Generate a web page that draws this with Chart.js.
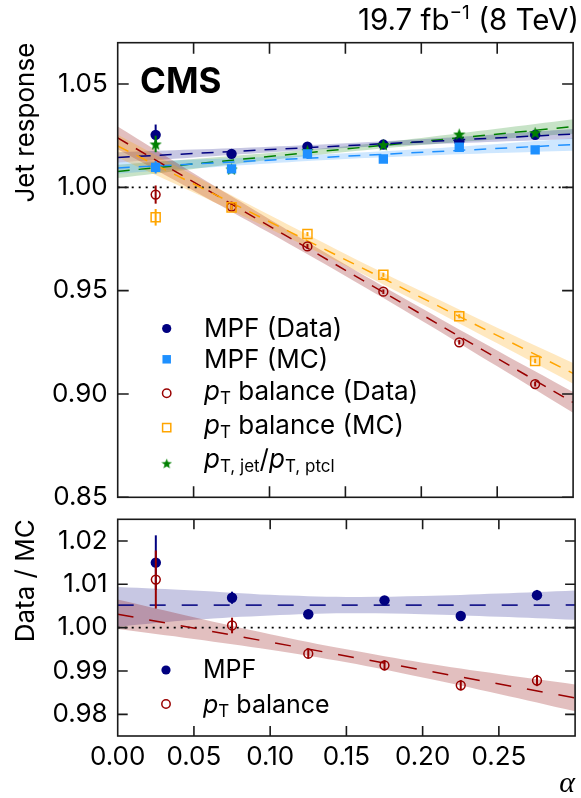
<!DOCTYPE html>
<html><head><meta charset="utf-8">
<script src="https://cdn.jsdelivr.net/npm/chart.js@4.4.1/dist/chart.umd.min.js"></script>
<style>
html,body{margin:0;padding:0;background:#fff;width:581px;height:798px;overflow:hidden;}
canvas{position:absolute;left:0;}
#top{top:0;}
#bot{top:510px;}
</style></head><body>
<canvas id="top" width="581" height="510"></canvas>
<canvas id="bot" width="581" height="288"></canvas>
<script>
// ---------------- data ----------------
const alphaBins = [0.025, 0.075, 0.125, 0.175, 0.225, 0.275];

const mpfData       = [1.0254, 1.0162, 1.0197, 1.0207, 1.0223, 1.0254];
const mpfDataErr    = [0.0050, 0.0010, 0.0008, 0.0008, 0.0009, 0.0011];
const mpfMC         = [1.0097, 1.0089, 1.0162, 1.0137, 1.0194, 1.0181];
const mpfMCErr      = [0.0030, 0.0008, 0.0007, 0.0007, 0.0008, 0.0009];
const ptbalData     = [0.9965, 0.9907, 0.9714, 0.9495, 0.9250, 0.9048];
const ptbalDataErr  = [0.0044, 0.0015, 0.0012, 0.0011, 0.0011, 0.0012];
const ptbalMC       = [0.9855, 0.9903, 0.9774, 0.9577, 0.9376, 0.9160];
const ptbalMCErr    = [0.0040, 0.0012, 0.0010, 0.0010, 0.0010, 0.0011];
const ptJetPtcl     = [1.0210, 1.0089, 1.0178, 1.0207, 1.0258, 1.0265];
const ptJetPtclErr  = [0.0040, 0.0008, 0.0007, 0.0007, 0.0008, 0.0009];

const ratioMpf      = [1.0150, 1.0069, 1.0031, 1.0063, 1.0027, 1.0075];
const ratioMpfErr   = [0.0063, 0.0014, 0.0011, 0.0010, 0.0011, 0.0012];
const ratioPtbal    = [1.0111, 1.0005, 0.9940, 0.9913, 0.9867, 0.9878];
const ratioPtbalErr = [0.0067, 0.0018, 0.0012, 0.0012, 0.0012, 0.0013];

// fitted lines (value at alpha = 0 and alpha = 0.3)
const fitAlpha        = [0, 0.3];
const fitMpfData      = [1.0145, 1.0258];
const fitMpfMC        = [1.0094, 1.0207];
const fitPtJetPtcl    = [1.0077, 1.0294];
const fitPtbalData    = [1.0239, 0.8959];
const fitPtbalMC      = [1.0200, 0.9100];
const fitRatioMpf     = [1.0052, 1.0052];
const fitRatioPtbal   = [1.0031, 0.9838];
const unityLine       = [1.0, 1.0];

// fit uncertainty bands (edges read at these alpha values)
const bandAlpha         = [0, 0.05, 0.10, 0.15, 0.20, 0.25, 0.30];
const bandMpfDataHi     = [1.0170, 1.0183, 1.0197, 1.0214, 1.0233, 1.0257, 1.0282];
const bandMpfDataLo     = [1.0120, 1.0145, 1.0169, 1.0190, 1.0207, 1.0221, 1.0234];
const bandMpfMCHi       = [1.0122, 1.0134, 1.0148, 1.0165, 1.0185, 1.0210, 1.0237];
const bandMpfMCLo       = [1.0066, 1.0092, 1.0116, 1.0137, 1.0153, 1.0166, 1.0177];
const bandPtJetHi       = [1.0109, 1.0137, 1.0166, 1.0199, 1.0239, 1.0283, 1.0329];
const bandPtJetLo       = [1.0045, 1.0089, 1.0132, 1.0171, 1.0205, 1.0233, 1.0259];
const bandPtbalDataHi   = [1.0294, 1.0068, 0.9846, 0.9627, 0.9416, 0.9210, 0.9009];
const bandPtbalDataLo   = [1.0184, 0.9984, 0.9780, 0.9571, 0.9356, 0.9134, 0.8909];
const bandPtbalMCHi     = [1.0255, 1.0059, 0.9866, 0.9678, 0.9497, 0.9321, 0.9150];
const bandPtbalMCLo     = [1.0145, 0.9975, 0.9800, 0.9622, 0.9437, 0.9245, 0.9050];
const bandRatioMpfHi    = [1.0094, 1.0086, 1.0076, 1.0071, 1.0073, 1.0079, 1.0086];
const bandRatioMpfLo    = [1.0002, 1.0018, 1.0028, 1.0033, 1.0031, 1.0025, 1.0018];
const bandRatioPtbalHi  = [1.0065, 1.0024, 0.9985, 0.9950, 0.9919, 0.9893, 0.9869];
const bandRatioPtbalLo  = [0.9997, 0.9974, 0.9949, 0.9920, 0.9885, 0.9847, 0.9807];

// axis ticks
const xTickValues   = [0, 0.05, 0.10, 0.15, 0.20, 0.25, 0.30];
const xTickLabels   = [0, 0.05, 0.10, 0.15, 0.20, 0.25];
const yTicksTop     = [0.85, 0.90, 0.95, 1.00, 1.05];
const yTicksBottom  = [0.98, 0.99, 1.00, 1.01, 1.02];

// ---------------- styling helpers ----------------
const FONT = "Inter, 'Liberation Sans', Arial, sans-serif";
const NAVY = '#000080', LBLUE = '#1E90FF', DRED = '#990000', ORANGE = '#FFA500', GREEN = '#008000';

function makeStar(size, color) {
  const c = document.createElement('canvas');
  c.width = c.height = size;
  const g = c.getContext('2d');
  g.fillStyle = color; g.beginPath();
  const cx = size / 2, cy = size / 2 + size * 0.06, R = size / 2, r = R * 0.42;
  for (let k = 0; k < 10; k++) {
    const a = -Math.PI / 2 + k * Math.PI / 5, rad = k % 2 ? r : R;
    g.lineTo(cx + rad * Math.cos(a), cy + rad * Math.sin(a));
  }
  g.closePath(); g.fill();
  return c;
}
const starBig = makeStar(13, GREEN);
const starSmall = makeStar(11, GREEN);

const pts = (xs, ys) => xs.map((x, i) => ({x, y: ys[i]}));
function band(lo, hi, color) {
  return [
    {data: pts(bandAlpha, hi), fill: '+1', backgroundColor: color, borderColor: 'rgba(0,0,0,0)', borderWidth: 0, pointRadius: 0, tension: 0.35, order: 10},
    {data: pts(bandAlpha, lo), fill: false, borderColor: 'rgba(0,0,0,0)', borderWidth: 0, pointRadius: 0, tension: 0.35, order: 10},
  ];
}
function fitLine(vals, color, dash) {
  return {data: pts(fitAlpha, vals), borderColor: color, borderWidth: 1.5, borderDash: dash, pointRadius: 0, fill: false, order: 5};
}
function markers(vals, errs, style) {
  return Object.assign({data: pts(alphaBins, vals), showLine: false, errors: errs, order: 1}, style);
}

const styleMpfData  = {pointStyle: 'circle', pointRadius: 5.2, pointBackgroundColor: NAVY, pointBorderColor: NAVY, pointBorderWidth: 0, errColor: NAVY};
const styleMpfMC    = {pointStyle: 'rect', pointRadius: 6.6, pointBackgroundColor: LBLUE, pointBorderColor: LBLUE, pointBorderWidth: 0, errColor: LBLUE};
const stylePtData   = {pointStyle: 'circle', pointRadius: 4.4, pointBackgroundColor: 'rgba(0,0,0,0)', pointBorderColor: DRED, pointBorderWidth: 1.5, errColor: DRED};
const stylePtMC     = {pointStyle: 'rect', pointRadius: 6.4, pointBackgroundColor: 'rgba(0,0,0,0)', pointBorderColor: ORANGE, pointBorderWidth: 1.5, errColor: ORANGE};
const styleStar     = {pointStyle: starBig, pointRadius: 6, errColor: GREEN};

// ---------------- plugins ----------------
const errorBarPlugin = {
  id: 'errbars',
  beforeDatasetDraw(chart, args) {
    const ds = chart.data.datasets[args.index];
    if (!ds.errors) return;
    const {ctx} = chart, xs = chart.scales.x, ys = chart.scales.y;
    ctx.save();
    ctx.strokeStyle = ds.errColor; ctx.lineWidth = 2;
    ds.data.forEach((p, i) => {
      const e = ds.errors[i];
      const x = xs.getPixelForValue(p.x);
      ctx.beginPath();
      ctx.moveTo(x, ys.getPixelForValue(p.y - e));
      ctx.lineTo(x, ys.getPixelForValue(p.y + e));
      ctx.stroke();
    });
    ctx.restore();
  }
};

function framePlugin(yTicks, tickLen) {
  return {
    id: 'frame',
    afterDraw(chart) {
      const {ctx, chartArea: {left, right, top, bottom}} = chart;
      const xs = chart.scales.x, ys = chart.scales.y;
      ctx.save();
      ctx.strokeStyle = '#1a1a1a'; ctx.lineWidth = 1.6;
      ctx.strokeRect(left, top, right - left, bottom - top);
      ctx.beginPath();
      xTickValues.forEach(v => {
        const x = xs.getPixelForValue(v);
        if (x <= left + 1 || x >= right - 1) return;
        ctx.moveTo(x, bottom); ctx.lineTo(x, bottom - tickLen);
        ctx.moveTo(x, top); ctx.lineTo(x, top + tickLen);
      });
      yTicks.forEach(v => {
        const y = ys.getPixelForValue(v);
        ctx.moveTo(left, y); ctx.lineTo(left + tickLen, y);
        ctx.moveTo(right, y); ctx.lineTo(right - tickLen, y);
      });
      ctx.stroke();
      ctx.restore();
    }
  };
}

// rich text: segments {t, it, sub, sup}
function richWidth(ctx, segs, size, small) {
  let w = 0;
  segs.forEach(s => {
    const sz = (s.sub || s.sup) ? small : size;
    ctx.font = (s.it ? 'italic ' : '') + sz + 'px ' + FONT;
    w += ctx.measureText(s.t).width;
  });
  return w;
}
function drawRich(ctx, x, y, segs, size, small, subDy, supDy) {
  ctx.textBaseline = 'alphabetic'; ctx.textAlign = 'left';
  segs.forEach(s => {
    const sz = (s.sub || s.sup) ? small : size;
    ctx.font = (s.it ? 'italic ' : '') + sz + 'px ' + FONT;
    const dy = s.sub ? subDy : (s.sup ? -supDy : 0);
    ctx.fillText(s.t, x, y + dy);
    x += ctx.measureText(s.t).width;
  });
}

const legendTop = [
  {marker: styleMpfData, size: 4.6, y: 328.5, base: 337.3, segs: [{t: 'MPF (Data)'}]},
  {marker: styleMpfMC, size: 6.0, y: 359.3, base: 368.3, segs: [{t: 'MPF (MC)'}]},
  {marker: stylePtData, size: 4.2, y: 393.3, base: 399.5, segs: [{t: 'p', it: true}, {t: 'T', sub: true}, {t: ' balance (Data)'}]},
  {marker: stylePtMC, size: 5.8, y: 427.7, base: 434, segs: [{t: 'p', it: true}, {t: 'T', sub: true}, {t: ' balance (MC)'}]},
  {marker: null, y: 463.3, base: 468, segs: [{t: 'p', it: true}, {t: 'T, jet', sub: true}, {t: '/'}, {t: 'p', it: true}, {t: 'T, ptcl', sub: true}]},
];
const legendBottom = [
  {marker: styleMpfData, size: 4.6, y: 160, base: 168.3, segs: [{t: 'MPF'}]},
  {marker: stylePtData, size: 4.2, y: 194, base: 202.5, segs: [{t: 'p', it: true}, {t: 'T', sub: true}, {t: ' balance'}]},
];

function drawLegend(ctx, rows, mx, tx, size, small) {
  rows.forEach(r => {
    ctx.save();
    if (r.marker) {
      ctx.fillStyle = r.marker.pointBackgroundColor;
      ctx.strokeStyle = r.marker.pointBorderColor;
      ctx.lineWidth = r.marker.pointBorderWidth || 1;
      ctx.beginPath();
      if (r.marker.pointStyle === 'circle') ctx.arc(mx, r.y, r.size, 0, Math.PI * 2);
      else { const h = r.size * Math.SQRT1_2; ctx.rect(mx - h, r.y - h, 2 * h, 2 * h); }
      ctx.fill();
      if (r.marker.pointBorderWidth) ctx.stroke();
    } else {
      ctx.drawImage(starSmall, mx - starSmall.width / 2, r.y - starSmall.height / 2);
    }
    ctx.restore();
    ctx.fillStyle = '#000';
    drawRich(ctx, tx, r.base, r.segs, size, small, 4, 10);
  });
}

const topTextPlugin = {
  id: 'topText',
  afterDraw(chart) {
    const ctx = chart.ctx;
    ctx.save();
    ctx.fillStyle = '#000';
    const hdr = [{t: '19.7 fb'}, {t: '\u22121', sup: true}, {t: ' (8 TeV)'}];
    const w = richWidth(ctx, hdr, 29.5, 19);
    drawRich(ctx, 579 - w, 29.5, hdr, 29.5, 19, 4, 10.5);
    ctx.font = 'bold 35px ' + FONT;
    ctx.textAlign = 'left'; ctx.textBaseline = 'alphabetic';
    ctx.fillText('CMS', 140, 93);
    drawLegend(ctx, legendTop, 166.7, 204, 26, 17);
    ctx.restore();
  }
};
const botTextPlugin = {
  id: 'botText',
  afterDraw(chart) {
    const ctx = chart.ctx;
    ctx.save();
    drawLegend(ctx, legendBottom, 166, 203, 25, 17);
    // x-axis title (alpha), right-aligned at the end of the axis
    ctx.fillStyle = '#000';
    ctx.font = "italic 30px 'Liberation Serif', serif";
    ctx.textAlign = 'right'; ctx.textBaseline = 'alphabetic';
    ctx.fillText('\u03b1', chart.chartArea.right, 282);
    ctx.restore();
  }
};

const tickFont = {family: FONT, size: 26};
const titleFont = {family: FONT, size: 26};
const zeroPad = s => { s.paddingTop = 0; s.paddingBottom = 0; s.paddingLeft = 0; s.paddingRight = 0; };

// ---------------- top panel ----------------
new Chart(document.getElementById('top'), {
  type: 'line',
  data: {datasets: [
    ...band(bandPtbalMCLo, bandPtbalMCHi, 'rgba(255,165,0,0.25)'),
    ...band(bandPtbalDataLo, bandPtbalDataHi, 'rgba(139,0,0,0.25)'),
    ...band(bandMpfMCLo, bandMpfMCHi, 'rgba(30,144,255,0.22)'),
    ...band(bandMpfDataLo, bandMpfDataHi, 'rgba(0,0,128,0.22)'),
    ...band(bandPtJetLo, bandPtJetHi, 'rgba(0,128,0,0.22)'),
    {data: pts(fitAlpha, unityLine), borderColor: '#000', borderWidth: 1.6, borderDash: [2, 5], pointRadius: 0, fill: false, order: 6},
    fitLine(fitPtbalMC, ORANGE, [12, 9]),
    fitLine(fitPtbalData, DRED, [12, 9]),
    fitLine(fitMpfMC, LBLUE, [12, 9]),
    fitLine(fitMpfData, NAVY, [12, 9]),
    fitLine(fitPtJetPtcl, GREEN, [12, 9]),
    markers(ptbalMC, ptbalMCErr, stylePtMC),
    markers(ptbalData, ptbalDataErr, stylePtData),
    markers(mpfMC, mpfMCErr, styleMpfMC),
    markers(ptJetPtcl, ptJetPtclErr, styleStar),
    markers(mpfData, mpfDataErr, styleMpfData),
  ]},
  options: {
    responsive: false, animation: false, devicePixelRatio: 1, events: [],
    layout: {padding: {top: 42.7, right: 1, bottom: 12.7, left: 0}},
    plugins: {legend: {display: false}, tooltip: {enabled: false}},
    scales: {
      x: {type: 'linear', min: 0, max: 0.3, display: false},
      y: {
        type: 'linear', min: 0.85, max: 1.07,
        afterBuildTicks: s => { s.ticks = yTicksTop.map(v => ({value: v})); },
        afterFit: s => { s.width = 117.7; zeroPad(s); },
        grid: {display: false, drawTicks: false}, border: {display: false},
        ticks: {font: tickFont, color: '#000', padding: 10, callback: v => Number(v).toFixed(2)},
        title: {display: true, text: 'Jet response', align: 'end', font: titleFont, color: '#000', padding: {top: 11, bottom: 0}}
      }
    }
  },
  plugins: [errorBarPlugin, framePlugin(yTicksTop, 11), topTextPlugin]
});

// ---------------- ratio panel ----------------
new Chart(document.getElementById('bot'), {
  type: 'line',
  data: {datasets: [
    ...band(bandRatioPtbalLo, bandRatioPtbalHi, 'rgba(139,0,0,0.25)'),
    ...band(bandRatioMpfLo, bandRatioMpfHi, 'rgba(0,0,128,0.22)'),
    {data: pts(fitAlpha, unityLine), borderColor: '#000', borderWidth: 1.6, borderDash: [2, 5], pointRadius: 0, fill: false, order: 6},
    fitLine(fitRatioPtbal, DRED, [16, 16]),
    fitLine(fitRatioMpf, NAVY, [16, 16]),
    markers(ratioPtbal, ratioPtbalErr, stylePtData),
    markers(ratioMpf, ratioMpfErr, styleMpfData),
  ]},
  options: {
    responsive: false, animation: false, devicePixelRatio: 1, events: [],
    layout: {padding: {top: 9.3, right: 1, bottom: 0, left: 0}},
    plugins: {legend: {display: false}, tooltip: {enabled: false}},
    scales: {
      x: {
        type: 'linear', min: 0, max: 0.3,
        afterBuildTicks: s => { s.ticks = xTickLabels.map(v => ({value: v})); },
        afterFit: s => { s.height = 62; zeroPad(s); },
        grid: {display: false, drawTicks: false}, border: {display: false},
        ticks: {font: tickFont, color: '#000', padding: 6, maxRotation: 0, autoSkip: false, callback: v => Number(v).toFixed(2)},
        title: {display: false}
      },
      y: {
        type: 'linear', min: 0.975, max: 1.025,
        afterBuildTicks: s => { s.ticks = yTicksBottom.map(v => ({value: v})); },
        afterFit: s => { s.width = 117.7; zeroPad(s); },
        grid: {display: false, drawTicks: false}, border: {display: false},
        ticks: {font: tickFont, color: '#000', padding: 10, callback: v => Number(v).toFixed(2)},
        title: {display: true, text: 'Data / MC', align: 'end', font: titleFont, color: '#000', padding: {top: 11, bottom: 0}}
      }
    }
  },
  plugins: [errorBarPlugin, framePlugin(yTicksBottom, 10), botTextPlugin]
});
</script>
</body></html>
